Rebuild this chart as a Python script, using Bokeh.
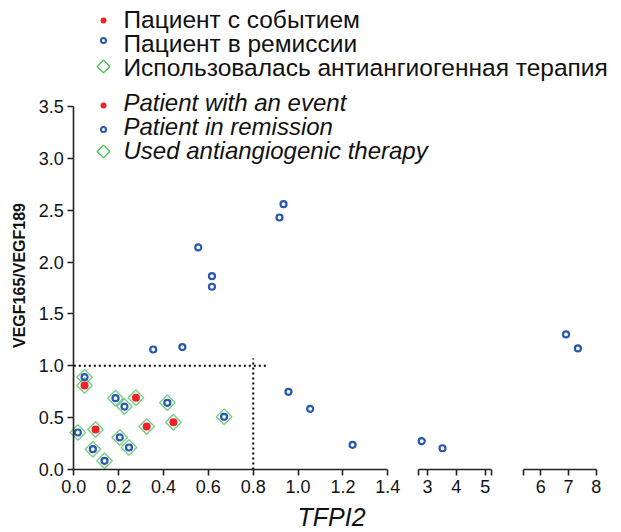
import math
from bokeh.plotting import figure
from bokeh.models import Range1d, LinearAxis, FixedTicker, Label, NumeralTickFormatter
from bokeh.embed import file_html
from bokeh.resources import INLINE

# ---------------- data ----------------
tfpi2 = [0.354, 0.484, 0.555, 0.616, 0.616, 0.917, 0.935, 0.957, 1.054, 1.243,
         2.80, 3.52, 6.91, 7.34,
         0.048, 0.186, 0.226, 0.417, 0.670, 0.018, 0.205, 0.246, 0.085, 0.137,
         0.048, 0.277, 0.097, 0.325, 0.444]
vegf_ratio = [1.157, 1.180, 2.141, 1.864, 1.762, 2.430, 2.558, 0.749, 0.585, 0.238,
              0.273, 0.205, 1.302, 1.167,
              0.890, 0.688, 0.607, 0.643, 0.508, 0.357, 0.309, 0.212, 0.196, 0.084,
              0.810, 0.691, 0.386, 0.415, 0.456]
had_event = [0, 0, 0, 0, 0, 0, 0, 0, 0, 0,
             0, 0, 0, 0,
             0, 0, 0, 0, 0, 0, 0, 0, 0, 0,
             1, 1, 1, 1, 1]
used_therapy = [0, 0, 0, 0, 0, 0, 0, 0, 0, 0,
                0, 0, 0, 0,
                1, 1, 1, 1, 1, 1, 1, 1, 1, 1,
                1, 1, 1, 1, 1]

x_segments = [(0.0, 1.4), (2.68, 5.22), (5.36, 8.0)]
x_ticks_seg = [[0.0, 0.2, 0.4, 0.6, 0.8, 1.0, 1.2, 1.4], [3, 4, 5], [6, 7, 8]]
y_ticks = [0.0, 0.5, 1.0, 1.5, 2.0, 2.5, 3.0, 3.5]
y_bounds = (0.0, 3.5)
tfpi2_cutoff = 0.8
ratio_cutoff = 1.0
cutoff_x_extent = 0.86
cutoff_y_extent = 1.07

legend_ru = ["Пациент с событием", "Пациент в ремиссии",
             "Использовалась антиангиогенная терапия"]
legend_en = ["Patient with an event", "Patient in remission",
             "Used antiangiogenic therapy"]
x_label = "TFPI2"
y_label = "VEGF165/VEGF189"

# ---------------- styling / layout ----------------
RED = "#ec2228"
BLUE = "#2757b0"
GREEN = "#3dbb4e"
TXT = "#111111"
FONT = "Liberation Sans"

W, H = 620, 531
# page-pixel anchors of the scales: (value, pixel, pixels per unit)
x_anchor = [(0.0, 73.3, 224.3), (3.0, 427.0, 28.85), (6.0, 540.3, 27.7)]
Y0, KY = 469.0, 103.71

ranges = []
for val, px, k in x_anchor:
    start = val - px / k
    ranges.append(Range1d(start, start + W / k))
y_range = Range1d(-(H - Y0) / KY, Y0 / KY)

p = figure(width=W, height=H, output_backend="svg", toolbar_location=None,
           x_range=ranges[0], y_range=y_range,
           min_border_left=0, min_border_right=0, min_border_top=0,
           min_border_bottom=0)
p.extra_x_ranges = {"seg2": ranges[1], "seg3": ranges[2], "px": Range1d(0, W)}
p.extra_y_ranges = {"py": Range1d(0, H)}
p.outline_line_color = None
p.grid.visible = False
p.background_fill_color = "white"
p.border_fill_color = "white"


def style_axis(ax):
    ax.axis_line_width = 1.6
    ax.axis_line_color = "#222222"
    ax.major_tick_line_width = 1.6
    ax.major_tick_line_color = "#222222"
    ax.major_tick_out = 6
    ax.major_tick_in = 0
    ax.minor_tick_line_width = 1.6
    ax.minor_tick_line_color = "#222222"
    ax.minor_tick_out = 6
    ax.minor_tick_in = 0
    ax.major_label_text_font = FONT
    ax.major_label_text_font_size = "18px"
    ax.major_label_text_color = TXT
    ax.major_label_standoff = 4


# y axis
yax = p.yaxis[0]
yax.fixed_location = 0
yax.bounds = y_bounds
yax.ticker = FixedTicker(ticks=y_ticks)
yax.formatter = NumeralTickFormatter(format="0.0")
style_axis(yax)

# x axis, first segment
xax = p.xaxis[0]
xax.fixed_location = 0
xax.bounds = x_segments[0]
xax.ticker = FixedTicker(ticks=x_ticks_seg[0])
xax.formatter = NumeralTickFormatter(format="0.0")
style_axis(xax)

# x axis, broken segments
for name, (lo, hi), ticks in zip(["seg2", "seg3"], x_segments[1:], x_ticks_seg[1:]):
    caps = [v for v in (lo, hi) if v not in ticks]
    ax = LinearAxis(x_range_name=name, fixed_location=0, bounds=(lo, hi),
                    ticker=FixedTicker(ticks=ticks, minor_ticks=caps),
                    formatter=NumeralTickFormatter(format="0"))
    style_axis(ax)
    p.add_layout(ax, "below")

# cutoff dotted lines
p.segment(x0=[0, tfpi2_cutoff], y0=[ratio_cutoff, 0],
          x1=[cutoff_x_extent, tfpi2_cutoff], y1=[ratio_cutoff, cutoff_y_extent],
          line_color="black", line_width=2, line_dash="2 3")

# points
names = ["default", "seg2", "seg3"]
for (lo, hi), rname in zip(x_segments, names):
    kw = {} if rname == "default" else {"x_range_name": rname}
    idx = [i for i, v in enumerate(tfpi2) if lo <= v <= hi]
    th = [i for i in idx if used_therapy[i]]
    rem = [i for i in idx if not had_event[i]]
    ev = [i for i in idx if had_event[i]]
    if th:
        p.scatter(x=[tfpi2[i] for i in th], y=[vegf_ratio[i] for i in th],
                  marker="square", angle=math.pi / 4, size=11, fill_color=None,
                  line_color=GREEN, line_width=1.4, line_alpha=0.7, **kw)
    if rem:
        p.scatter(x=[tfpi2[i] for i in rem], y=[vegf_ratio[i] for i in rem],
                  marker="circle", size=6, fill_color=None,
                  line_color=BLUE, line_width=2.2, **kw)
    if ev:
        p.scatter(x=[tfpi2[i] for i in ev], y=[vegf_ratio[i] for i in ev],
                  marker="circle", size=8, fill_color=RED, line_color=None, **kw)

# legends (page-pixel coordinates, y measured from the bottom)
leg_mark_x = 103
leg_text_x = 123
ru_marks = [20, 40, 66]
ru_text = [19, 43, 67]
en_marks = [105, 129, 151]
en_text = [102, 126, 150]
for marks, texts, labels, style, fs in [(ru_marks, ru_text, legend_ru, "normal", "24.5px"),
                                        (en_marks, en_text, legend_en, "italic", "24px")]:
    p.scatter(x=[leg_mark_x], y=[H - marks[0]], x_range_name="px", y_range_name="py",
              marker="circle", size=6, fill_color=RED, line_color=None)
    p.scatter(x=[leg_mark_x], y=[H - marks[1]], x_range_name="px", y_range_name="py",
              marker="circle", size=5, fill_color=None, line_color=BLUE, line_width=2)
    p.scatter(x=[leg_mark_x], y=[H - marks[2]], x_range_name="px", y_range_name="py",
              marker="square", angle=math.pi / 4, size=9, fill_color=None,
              line_color=GREEN, line_width=1.2)
    for r, t in zip(texts, labels):
        p.add_layout(Label(x=leg_text_x, y=H - r, x_units="screen", y_units="screen",
                           text=t, text_font=FONT, text_font_size=fs,
                           text_font_style=style, text_color=TXT,
                           text_baseline="middle", text_align="left"))

p.add_layout(Label(x=19, y=H - 275, x_units="screen", y_units="screen", text=y_label,
                   angle=math.pi / 2, text_align="center", text_baseline="middle",
                   text_font=FONT, text_font_size="16px", text_font_style="bold",
                   text_color=TXT))
p.add_layout(Label(x=331, y=H - 516, x_units="screen", y_units="screen", text=x_label,
                   text_align="center", text_baseline="middle",
                   text_font=FONT, text_font_size="25px", text_font_style="italic",
                   text_color=TXT))

open("out.html", "w").write(file_html(p, INLINE))
